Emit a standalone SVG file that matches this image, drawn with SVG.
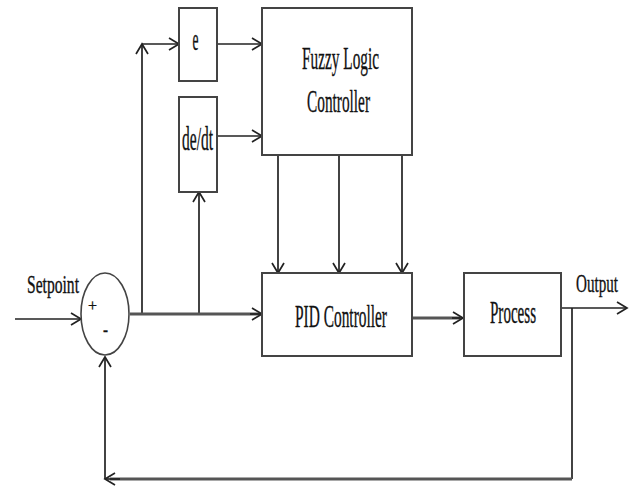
<svg xmlns="http://www.w3.org/2000/svg" width="629" height="488" viewBox="0 0 629 488">
<defs>
<style>
.box{fill:#fff;stroke:#444;stroke-width:2}
.ln{fill:none;stroke:#222;stroke-width:1.7}
.thick{fill:none;stroke:#555;stroke-width:3}
.t{font-family:"Liberation Serif","Times New Roman",serif;fill:#111;stroke:#111;stroke-width:0.35;text-anchor:middle}
</style>
<marker id="arr" markerUnits="userSpaceOnUse" markerWidth="14" markerHeight="16" refX="11" refY="7" orient="auto">
<path d="M1,1 L11,7 L1,13" fill="none" stroke="#222" stroke-width="1.7"/>
</marker>
</defs>
<rect width="629" height="488" fill="#fff"/>
<g id="connectors">
<line class="ln" x1="15" y1="319" x2="81" y2="319" marker-end="url(#arr)"/>
<line class="ln" x1="142" y1="314" x2="142" y2="44" marker-end="url(#arr)"/>
<line class="ln" x1="142" y1="44" x2="179" y2="44" marker-end="url(#arr)"/>
<line class="ln" x1="217" y1="44" x2="262" y2="44" marker-end="url(#arr)"/>
<line class="ln" x1="217" y1="136" x2="262" y2="136" marker-end="url(#arr)"/>
<line class="ln" x1="199" y1="314" x2="199" y2="192" marker-end="url(#arr)"/>
<line class="ln" x1="278" y1="155" x2="278" y2="273" marker-end="url(#arr)"/>
<line class="ln" x1="339" y1="155" x2="339" y2="273" marker-end="url(#arr)"/>
<line class="ln" x1="402" y1="155" x2="402" y2="273" marker-end="url(#arr)"/>
<line class="thick" x1="130" y1="314" x2="260" y2="314"/>
<line class="ln" x1="250" y1="314" x2="262" y2="314" marker-end="url(#arr)"/>
<line class="thick" x1="412" y1="318" x2="460" y2="318"/>
<line class="ln" x1="452" y1="318" x2="463" y2="318" marker-end="url(#arr)"/>
<line class="ln" x1="561" y1="308" x2="627" y2="308" marker-end="url(#arr)"/>
<polyline class="ln" points="572,308 572,479"/>
<line class="thick" x1="572" y1="479" x2="110" y2="479"/>
<line class="ln" x1="120" y1="479" x2="105" y2="479" marker-end="url(#arr)"/>
<line class="ln" x1="105" y1="479" x2="105" y2="357" marker-end="url(#arr)"/>
</g>
<g id="e">
<rect class="box" x="179" y="8" width="38" height="73"/>
<text class="t" x="195.5" y="50" font-size="32" textLength="6" lengthAdjust="spacingAndGlyphs">e</text>
</g>
<g id="dedt">
<rect class="box" x="179" y="97" width="38" height="95"/>
<text class="t" x="197.5" y="150" font-size="33" textLength="31" lengthAdjust="spacingAndGlyphs">de/dt</text>
</g>
<g id="fuzzy">
<rect class="box" x="262" y="8" width="150" height="147"/>
<text class="t" x="340.5" y="69" font-size="32" textLength="77" lengthAdjust="spacingAndGlyphs">Fuzzy Logic</text>
<text class="t" x="338.5" y="112" font-size="32" textLength="63" lengthAdjust="spacingAndGlyphs">Controller</text>
</g>
<g id="sum">
<ellipse cx="105" cy="314" rx="24" ry="41" fill="#fff" stroke="#444" stroke-width="1.6"/>
<text class="t" x="92.5" y="311" font-size="17" textLength="9" lengthAdjust="spacingAndGlyphs">+</text>
<text class="t" x="105.5" y="336" font-size="20" textLength="5" lengthAdjust="spacingAndGlyphs">-</text>
</g>
<g id="pid">
<rect class="box" x="262" y="273" width="150" height="83"/>
<text class="t" x="341" y="327" font-size="32" textLength="92" lengthAdjust="spacingAndGlyphs">PID Controller</text>
</g>
<g id="process">
<rect class="box" x="464" y="273" width="97" height="83"/>
<text class="t" x="513" y="323" font-size="31" textLength="46" lengthAdjust="spacingAndGlyphs">Process</text>
</g>
<g id="labels">
<text class="t" transform="translate(53,293) scale(0.6,1)" x="0" y="0" font-size="26">Setpoint</text>
<text class="t" transform="translate(597,292) scale(0.58,1)" x="0" y="0" font-size="26">Output</text>
</g>
</svg>
